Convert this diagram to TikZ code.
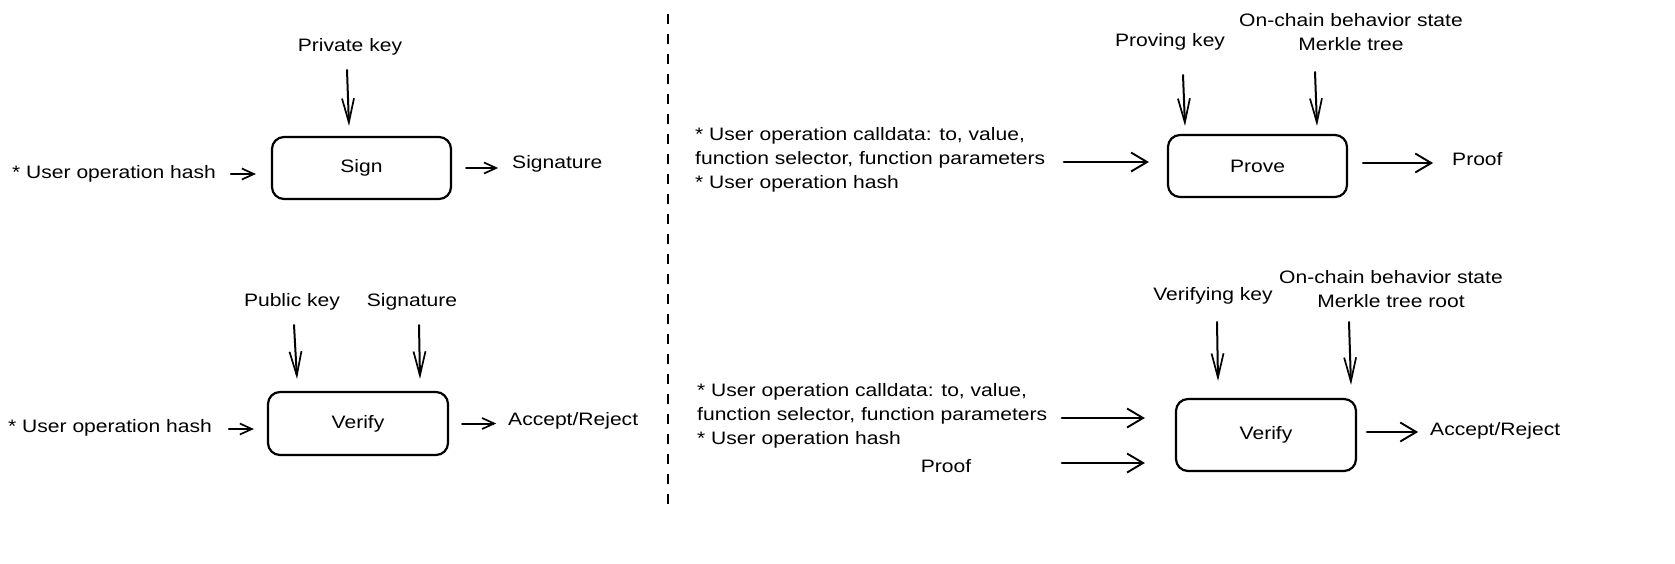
\documentclass[tikz,border=0pt]{standalone}
\usepackage{fontspec}
\setmainfont[FakeStretch=1.17]{Liberation Sans}
\usetikzlibrary{arrows.meta,calc}
\begin{document}
\begin{tikzpicture}[x=1pt,y=-1pt,
  lbl/.style={inner sep=0pt, font=\fontsize{18}{24}\selectfont},
  box/.style={draw, line width=2.2pt, rounded corners=12pt, inner sep=0pt, font=\fontsize{18}{24}\selectfont},
  conn/.style={line width=2pt, line cap=round},
  varr/.style={conn, -{Straight Barb[length=24pt,width=12pt,line width=1.7pt]}},
  harr/.style={conn, -{Straight Barb[length=12pt,width=11pt,line width=1.7pt]}},
  barr/.style={conn, line width=2.6pt, -{Straight Barb[length=16pt,width=19pt,line width=1.9pt]}},
  divider/.style={line width=2pt, dash pattern=on 10pt off 10pt}]
\useasboundingbox (0,0) rectangle (1675,563);
\fill[white] (0,0) rectangle (1675,563);

% ---------- left top: Sign ----------
\node[box, minimum width=179pt, minimum height=62pt] (sign) at (361.5,168) {Sign};
\node[lbl] (pk) at (350,47) {Private key};
\node[lbl, anchor=west] (uoh1) at (12,174) {* User operation hash};
\node[lbl, anchor=west] (sig1) at (512,164) {Signature};
\draw[varr] ($(pk)+(-3,23)$) -- ($(sign.north)+(-12.5,-10)$);
\draw[harr] ($(sign.west)+(-40,6)$) -- ($(sign.west)+(-15,6)$);
\draw[harr] ($(sign.east)+(14,0)$) -- ($(sign.east)+(46,0)$);

% ---------- left bottom: Verify ----------
\node[box, minimum width=180pt, minimum height=63pt] (verL) at (358,423.5) {Verify};
\node[lbl] (pub) at (292,302) {Public key};
\node[lbl] (sig2) at (412,302) {Signature};
\node[lbl, anchor=west] (uoh2) at (8,428) {* User operation hash};
\node[lbl, anchor=west] (acc1) at (508,421) {Accept/Reject};
\draw[varr] ($(pub)+(2,23)$) -- ($(verL.north)+(-61,-12)$);
\draw[varr] ($(sig2)+(7,23)$) -- ($(verL.north)+(62,-12)$);
\draw[harr] ($(verL.west)+(-38,5.5)$) -- ($(verL.west)+(-13,5.5)$);
\draw[harr] ($(verL.east)+(13,0)$) -- ($(verL.east)+(47,0)$);

% ---------- divider ----------
\coordinate (dtop) at (668,14);
\coordinate (dbot) at (668,513);
\draw[divider] (dtop) -- (dbot);

% ---------- right top: Prove ----------
\node[box, minimum width=179pt, minimum height=62pt] (prove) at (1257.5,166) {Prove};
\node[lbl, anchor=west, align=left] (cd1) at (695,160) {* User operation calldata: to, value,\\function selector, function parameters\\* User operation hash};
\node[lbl, anchor=west] (proof1) at (1452,159) {Proof};
\node[lbl] (provk) at (1170,42) {Proving key};
\node[lbl, align=center] (ocs1) at (1351,32) {On-chain behavior state\\Merkle tree};
\draw[barr] ($(prove.west)+(-103,-4)$) -- ($(prove.west)+(-18,-4)$);
\draw[barr] ($(prove.east)+(15,-3)$) -- ($(prove.east)+(85,-3)$);
\draw[varr] ($(provk)+(13,33)$) -- ($(prove.north)+(-72.5,-8)$);
\draw[varr] ($(ocs1)+(-36,40)$) -- ($(prove.north)+(59.5,-8)$);

% ---------- right bottom: Verify ----------
\node[box, minimum width=180pt, minimum height=72pt] (verR) at (1266,435) {Verify};
\node[lbl, anchor=west, align=left] (cd2) at (697,416) {* User operation calldata: to, value,\\function selector, function parameters\\* User operation hash};
\node[lbl] (proofin) at (946,466) {Proof};
\node[lbl] (vk) at (1213,296) {Verifying key};
\node[lbl, align=center] (ocs2) at (1391,289) {On-chain behavior state\\Merkle tree root};
\node[lbl, anchor=west] (acc2) at (1430,431) {Accept/Reject};
\draw[barr] ($(verR.west)+(-113,-17)$) -- ($(verR.west)+(-30,-17)$);
\draw[barr] ($(verR.west)+(-113,28)$) -- ($(verR.west)+(-30,28)$);
\draw[barr] ($(verR.east)+(10,-3)$) -- ($(verR.east)+(61,-3)$);
\draw[varr] ($(vk)+(4,26)$) -- ($(verR.north)+(-48,-17)$);
\draw[varr] ($(ocs2)+(-42,33)$) -- ($(verR.north)+(85,-13)$);
\end{tikzpicture}
\end{document}
